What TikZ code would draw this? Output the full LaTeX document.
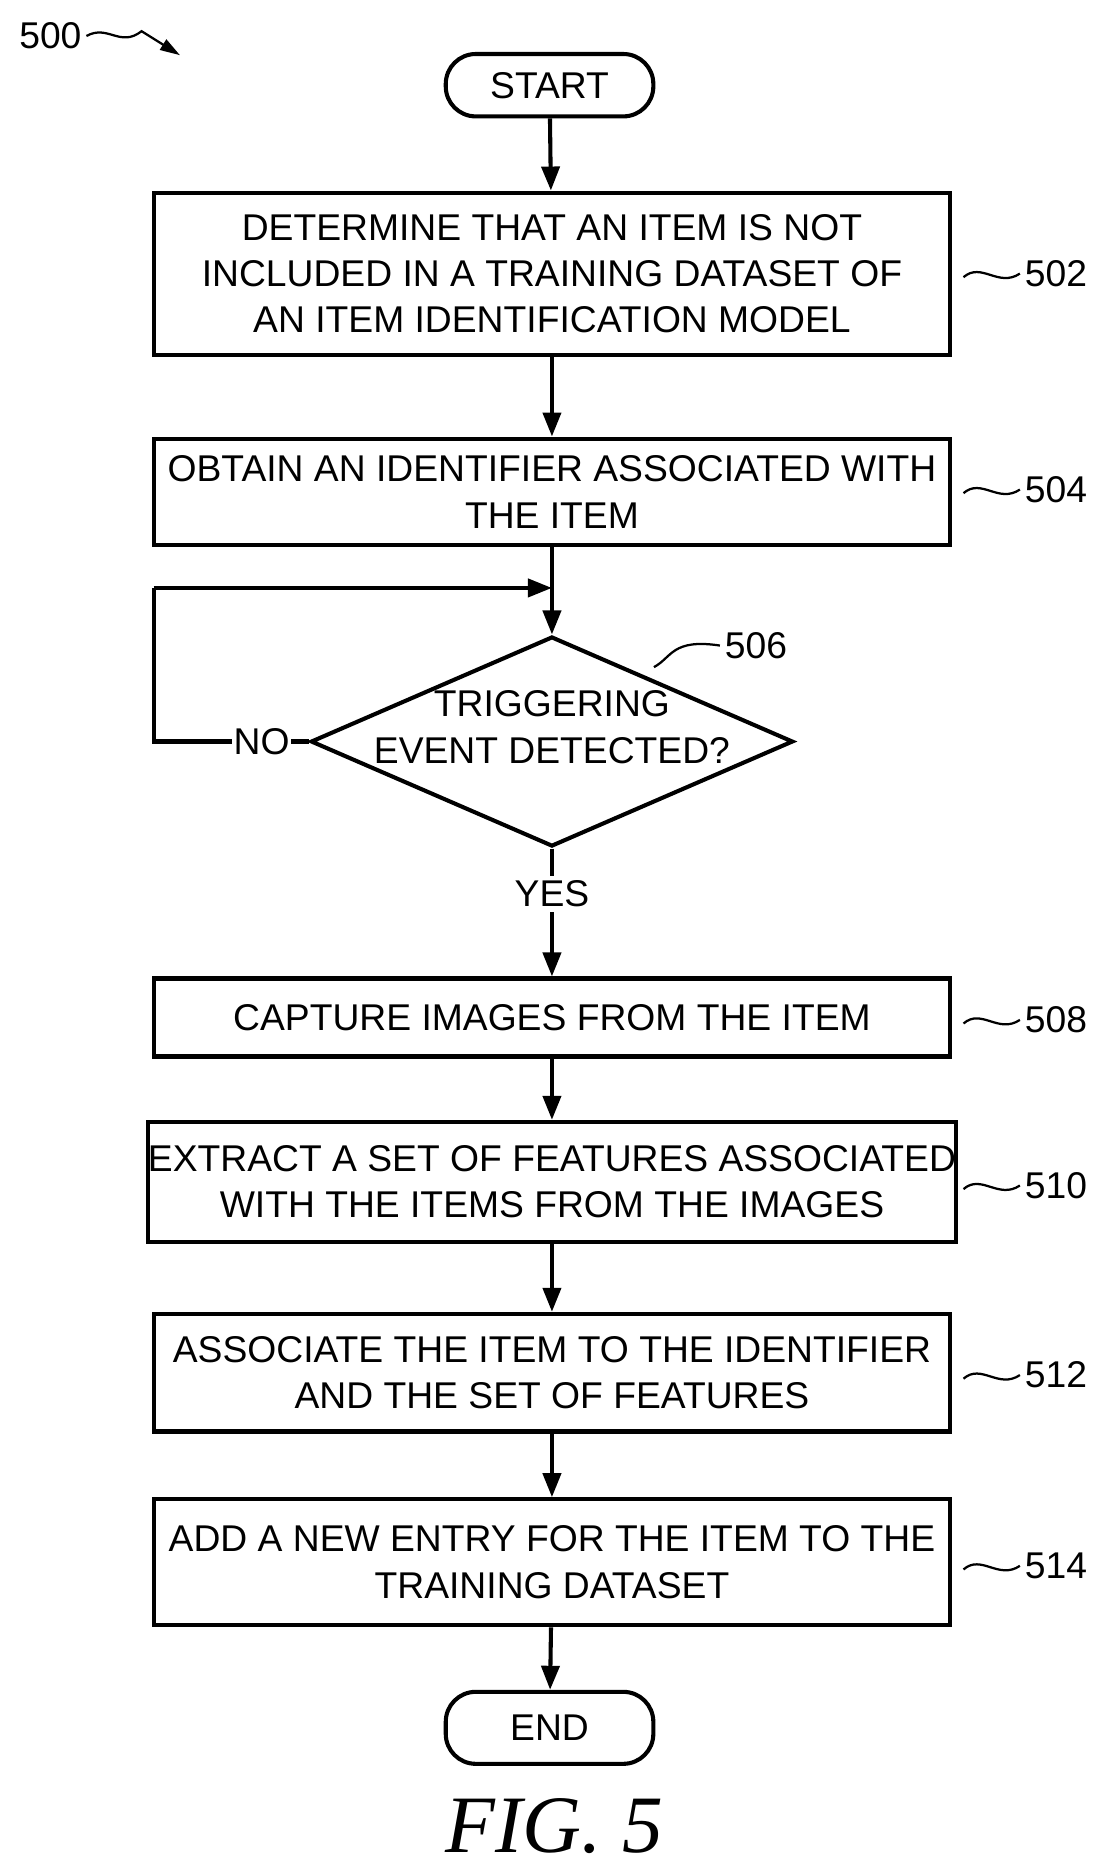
\documentclass[tikz,border=0pt]{standalone}
\usepackage{fontspec}
\setmainfont{Liberation Sans}
\newfontfamily\figfont{Liberation Serif}
\usetikzlibrary{shapes.geometric,arrows.meta}
\begin{document}
\begin{tikzpicture}[x=0.03cm,y=-0.03cm,
  box/.style={draw,line width=2.9pt,align=center,minimum width=19.92cm,inner sep=0pt,font=\fontsize{26.5}{33}\selectfont},
  term/.style={draw,line width=2.9pt,rounded corners=0.75cm,minimum width=5.19cm,inner sep=0pt,font=\fontsize{26.5}{33}\selectfont},
  arr/.style={line width=2.9pt,-{Triangle[length=0.6cm,width=0.45cm]}},
  ln/.style={line width=2.9pt},
  sq/.style={line width=1.6pt},
  lab/.style={font=\fontsize{26.5}{30}\selectfont}]
\useasboundingbox (0,0) rectangle (916,1556);
\node[term,minimum height=1.56cm] (start) at (458,71) {START};
\node[box,minimum height=4.05cm] (b502) at (460,228) {DETERMINE THAT AN ITEM IS NOT\\INCLUDED IN A TRAINING DATASET OF\\AN ITEM IDENTIFICATION MODEL};
\node[box,minimum height=2.67cm] (b504) at (460,410) {OBTAIN AN IDENTIFIER ASSOCIATED WITH\\THE ITEM};
\node[draw,line width=2.9pt,diamond,aspect=2.3,minimum width=12.06cm,minimum height=5.25cm,inner sep=0pt] (d506) at (460,618) {};
\node[align=center,font=\fontsize{26.5}{33}\selectfont] (t506) at (460,606) {TRIGGERING\\EVENT DETECTED?};
\node[box,minimum height=1.95cm] (b508) at (460,848) {CAPTURE IMAGES FROM THE ITEM};
\node[box,minimum height=3.0cm] (b510) at (460,985) {EXTRACT A SET OF FEATURES ASSOCIATED\\WITH THE ITEMS FROM THE IMAGES};
\node[box,minimum height=2.94cm] (b512) at (460,1144) {ASSOCIATE THE ITEM TO THE IDENTIFIER\\AND THE SET OF FEATURES};
\node[box,minimum height=3.15cm] (b514) at (460,1302) {ADD A NEW ENTRY FOR THE ITEM TO THE\\TRAINING DATASET};
\node[term,minimum height=1.8cm] (end) at (458,1440) {END};
\node[lab] (yes) at (460,745) {YES};
\node[lab,inner sep=1pt] (no) at (218,618) {NO};
\coordinate (lt) at (128,490);
\coordinate (lb) at (128,618);
\coordinate (top) at (460,490);
\draw[arr] (start) -- (b502);
\draw[arr] (b502) -- (b504);
\draw[arr] (b504) -- (d506);
\draw[ln] (d506.west) -- (no.east);
\draw[ln] (no.west) -- (lb) -- (lt);
\draw[arr] (lt) -- (top);
\draw[ln] (d506.south) -- (yes.north);
\draw[arr] (yes.south) -- (b508);
\draw[arr] (b508) -- (b510);
\draw[arr] (b510) -- (b512);
\draw[arr] (b512) -- (b514);
\draw[arr] (b514) -- (end);
\foreach \n/\y in {502/228,504/408,508/850,510/988,512/1146,514/1305}{
  \node[lab,anchor=west] (l\n) at (850,\y) {\n};
  \draw[sq] (803,\y+3) .. controls (818,\y-10) and (832,\y+12) .. (l\n.west);}
\node[lab] (l506) at (630,538) {506};
\draw[sq] (545,556) .. controls (560,548) and (560,532) .. (l506.west);
\node[lab] (l500) at (42,30) {500};
\coordinate (a500) at (150,46);
\draw[sq,-{Triangle[length=0.5cm,width=0.3cm]}] (l500.east) .. controls (90,20) and (100,40) .. (118,26) -- (a500);
\node[font=\figfont\itshape\fontsize{58}{60}\selectfont] (fig) at (462,1522) {FIG. 5};
\end{tikzpicture}
\end{document}
